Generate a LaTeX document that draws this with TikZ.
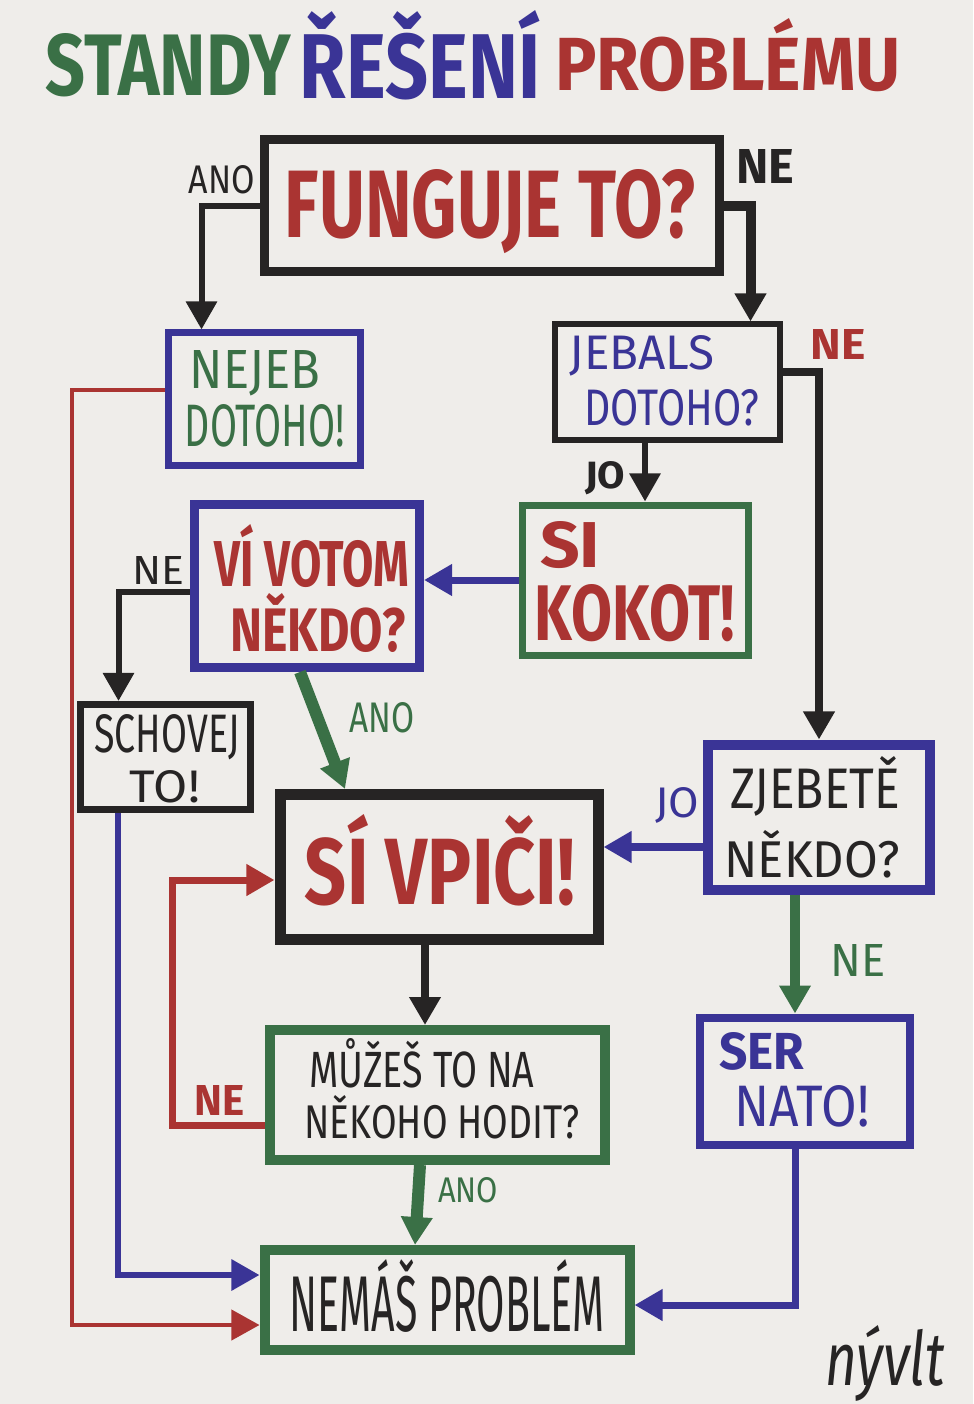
\documentclass[tikz,border=0pt]{standalone}
\usepackage{fontspec}
\setmainfont{Fira Sans}
\usepackage{graphicx}
\usetikzlibrary{arrows.meta,calc}
\newdimen\pxu \pxu=0.025cm
\newcommand{\fit}[3]{\resizebox{#1\pxu}{#2\pxu}{#3}}
\definecolor{mgreen}{RGB}{58,112,70}
\definecolor{mblue}{RGB}{58,52,150}
\definecolor{mred}{RGB}{170,52,50}
\definecolor{ink}{RGB}{38,36,36}
\definecolor{paper}{RGB}{239,237,234}
\begin{document}
\begin{tikzpicture}[x=0.025cm,y=-0.025cm,
  box/.style={draw, rectangle, inner sep=0pt},
  sz/.style 2 args={minimum width=#1*0.025cm, minimum height=#2*0.025cm},
  lw/.style={line width=#1*0.025cm},
  t/.style={inner sep=0pt, align=center},
  conn/.style={line width=#1*0.025cm},
  conn/.default=6,
  arr/.style={-{Triangle[length=0.7cm,width=0.75cm]}}]
\fill[paper] (0,0) rectangle (973,1404);
\useasboundingbox (0,0) rectangle (973,1404);

% title
\node[t, text=mgreen] (t1) at (168,65) {\fit{245}{62}{\bfseries STANDY}};
\node[t, text=mblue] (t2) at (420,55) {\fit{240}{88}{\bfseries ŘEŠENÍ}};
\node[t, text=mred] (t3) at (728,55) {\fit{345}{72}{\bfseries PROBLÉMU}};

% boxes
\node[box, draw=ink, lw=9, sz={455}{132}] (fung) at (492,206) {};
\node[box, draw=mblue, lw=7, sz={192}{132}] (nejeb) at (264,399) {};
\node[box, draw=ink, lw=6, sz={225}{115}] (jebals) at (667,382) {};
\node[box, draw=mgreen, lw=7, sz={226}{150}] (kokot) at (635,580) {};
\node[box, draw=mblue, lw=9, sz={225}{163}] (vi) at (307,586) {};
\node[box, draw=ink, lw=7, sz={170}{105}] (schov) at (165,757) {};
\node[box, draw=ink, lw=11, sz={318}{145}] (vpici) at (439,867) {};
\node[box, draw=mblue, lw=10, sz={222}{145}] (zjeb) at (819,817) {};
\node[box, draw=mblue, lw=8, sz={210}{127}] (ser) at (805,1081) {};
\node[box, draw=mgreen, lw=10, sz={335}{130}] (muzes) at (437,1095) {};
\node[box, draw=mgreen, lw=10, sz={365}{100}] (nemas) at (447,1300) {};

% box texts
\node[t, text=mred] (fungt) at (490,212) {\fit{410}{68}{\bfseries FUNGUJE TO?}};
\node[t, text=mgreen] (nejebt1) at (255,373) {\fit{130}{38}{NEJEB}};
\node[t, text=mgreen] (nejebt2) at (265,426) {\fit{160}{42}{DOTOHO!}};
\node[t, text=mblue] (jebalst1) at (642,356) {\fit{145}{34}{JEBALS}};
\node[t, text=mblue] (jebalst2) at (672,408) {\fit{175}{36}{DOTOHO?}};
\node[t, text=mred] (kokott1) at (570,545) {\fit{60}{46}{\bfseries SI}};
\node[t, text=mred] (kokott2) at (635,613) {\fit{200}{56}{\bfseries KOKOT!}};
\node[t, text=mred] (vit1) at (312,556) {\fit{195}{62}{\bfseries VÍ VOTOM}};
\node[t, text=mred] (vit2) at (318,623) {\fit{175}{58}{\bfseries NĚKDO?}};
\node[t, text=ink] (schovt1) at (167,737) {\fit{145}{38}{SCHOVEJ}};
\node[t, text=ink] (schovt2) at (165,787) {\fit{70}{32}{TO!}};
\node[t, text=mred] (vpicit) at (440,860) {\fit{270}{90}{\bfseries SÍ VPIČI!}};
\node[t, text=ink] (zjebt1) at (815,786) {\fit{170}{52}{ZJEBETĚ}};
\node[t, text=ink] (zjebt2) at (812,854) {\fit{175}{47}{NĚKDO?}};
\node[t, text=mblue] (sert1) at (762,1051) {\fit{85}{37}{\bfseries SER}};
\node[t, text=mblue] (sert2) at (802,1106) {\fit{135}{41}{NATO!}};
\node[t, text=ink] (muzest1) at (422,1063) {\fit{225}{49}{MŮŽEŠ TO NA}};
\node[t, text=ink] (muzest2) at (442,1117) {\fit{275}{43}{NĚKOHO HODIT?}};
\node[t, text=ink] (nemast) at (447,1296) {\fit{315}{72}{NEMÁŠ PROBLÉM}};

% labels
\node[t, text=ink] (ano1) at (222,180) {\fit{66}{28}{ANO}};
\node[t, text=ink] (ne1) at (765,167) {\fit{58}{34}{\bfseries NE}};
\node[t, text=mred] (ne2) at (838,345) {\fit{55}{30}{\bfseries NE}};
\node[t, text=ink] (jo1) at (605,478) {\fit{40}{27}{\bfseries JO}};
\node[t, text=ink] (ne3) at (158,570) {\fit{52}{28}{NE}};
\node[t, text=mgreen] (ano2) at (382,718) {\fit{65}{30}{ANO}};
\node[t, text=mblue] (jo2) at (677,805) {\fit{44}{30}{JO}};
\node[t, text=mgreen] (ne4) at (858,960) {\fit{55}{32}{NE}};
\node[t, text=mred] (ne5) at (220,1100) {\fit{50}{30}{\bfseries NE}};
\node[t, text=mgreen] (ano3) at (468,1190) {\fit{60}{25}{ANO}};
\node[t, text=ink] (sig) at (885,1363) {\fit{120}{60}{\itshape nývlt}};

% connectors
\draw[ink, conn=6, arr] (fung.west) -| ($(nejeb.north west)+(37,0)$);
\draw[ink, conn=10, arr] (fung.east) -| ($(jebals.north east)+(-32,0)$);
\draw[ink, conn=8, arr] ($(jebals.east)+(0,-10)$) -| (zjeb.north);
\draw[ink, conn=6, arr] ($(jebals.south)+(-22,0)$) -- ($(kokot.north)+(10,0)$);
\draw[mblue, conn=7, arr] (kokot.west) -- (vi.east |- kokot.west);
\draw[ink, conn=6, arr] ($(vi.west)+(0,6)$) -| ($(schov.north west)+(42,0)$);
\draw[mgreen, conn=12, arr] ($(vi.south)+(-7,0)$) -- ($(vpici.north)+(-94,0)$);
\draw[mblue, conn=8, arr] ($(zjeb.west)+(0,30)$) -- ($(vpici.east)+(0,-20)$);
\draw[mgreen, conn=10, arr] ($(zjeb.south)+(-24,0)$) -- ($(ser.north)+(-10,0)$);
\draw[ink, conn=8, arr] ($(vpici.south)+(-14,0)$) -- ($(muzes.north)+(-12,0)$);
\draw[mred, conn=7, arr] ($(muzes.west)+(0,30)$) -| ($(vpici.west)+(-102,13)$) -- ($(vpici.west)+(0,13)$);
\draw[mgreen, conn=12, arr] ($(muzes.south)+(-17,0)$) -- ($(nemas.north)+(-32,0)$);
\draw[mred, conn=4, arr] ($(nejeb.west)+(0,-9)$) -- ($(nejeb.west)+(-93,-9)$) |- ($(nemas.west)+(0,25)$);
\draw[mblue, conn=6, arr] ($(schov.south)+(-47,0)$) |- ($(nemas.west)+(0,-25)$);
\draw[mblue, conn=7, arr] ($(ser.south)+(-10,0)$) |- ($(nemas.east)+(0,5)$);
\end{tikzpicture}
\end{document}
